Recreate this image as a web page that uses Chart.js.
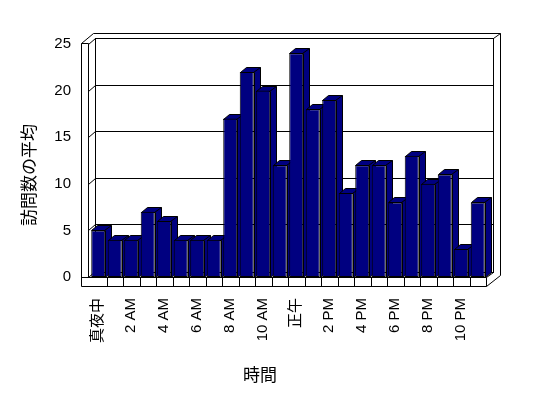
<!DOCTYPE html>
<html>
<head>
<meta charset="utf-8">
<script src="https://cdn.jsdelivr.net/npm/chart.js@4/dist/chart.umd.min.js"></script>
<style>
    html, body { margin: 0; padding: 0; background: #fff; }
    #wrap { width: 548px; height: 398px; }
</style>
</head>
<body>
<div id="wrap"><canvas id="visitChart" width="548" height="398"></canvas></div>
<script>
// Data
const hours = ['真夜中', '1 AM', '2 AM', '3 AM', '4 AM', '5 AM', '6 AM', '7 AM', '8 AM', '9 AM', '10 AM', '11 AM',
    '正午', '1 PM', '2 PM', '3 PM', '4 PM', '5 PM', '6 PM', '7 PM', '8 PM', '9 PM', '10 PM', '11 PM'];
const avgVisits = [5, 4, 4, 7, 6, 4, 4, 4, 17, 22, 20, 12, 24, 18, 19, 9, 12, 12, 8, 13, 10, 11, 3, 8];
const yTicks = [0, 5, 10, 15, 20, 25];
const xTitle = '時間';
const yTitle = '訪問数の平均';

const NAVY = '#000080';
const FONT = '"Liberation Sans", "Noto Sans CJK JP", sans-serif';

// Fake 3D box: walls, floor slab and bar depth faces
const box3d = {
    id: 'box3d',
    beforeDatasetsDraw(chart) {
        const ctx = chart.ctx;
        const xs = chart.scales.x, ys = chart.scales.y;
        const L = Math.round(xs.left) - 2;          // front edge of left wall
        const Lo = L - 7;                           // outer face of left wall
        const R = Math.round(xs.right);
        const B = Math.round(ys.getPixelForValue(0));
        const T = Math.round(ys.getPixelForValue(yTicks[yTicks.length - 1]));
        const DX = 7, DY = -6;
        const bw = { l: L + DX, r: R + 7, t: T + DY, b: B - 5 };   // back wall face
        const p = v => v + 0.5;

        ctx.save();
        ctx.strokeStyle = '#000';
        ctx.lineWidth = 1;

        const line = (x1, y1, x2, y2) => {
            ctx.beginPath();
            ctx.moveTo(p(x1), p(y1));
            ctx.lineTo(p(x2), p(y2));
            ctx.stroke();
        };

        // outer back frame
        line(Lo, T - 1, Lo + 12, T - 11);
        line(Lo + 12, T - 11, bw.r + 7, T - 11);
        line(bw.r + 7, T - 11, bw.r + 7, B - 2);
        line(bw.r, bw.t, bw.r + 7, T - 11);
        line(R, B + 9, bw.r + 7, B - 2);

        // back wall face
        ctx.strokeRect(p(bw.l), p(bw.t), bw.r - bw.l, bw.b - bw.t);

        // gridlines on the back wall + ticks on the left wall
        yTicks.forEach(v => {
            const yy = Math.round(ys.getPixelForValue(v));
            if (v > 0 && v < yTicks[yTicks.length - 1]) {
                line(bw.l, yy + DY, bw.r, yy + DY);
            }
            line(L, yy, bw.l, yy + DY);
        });

        // left wall
        line(Lo, T - 1, Lo, B + 9);
        line(L, T - 1, L, B);
        line(Lo, T - 1, L, T - 1);

        // floor slab
        line(Lo, B, R, B);
        line(Lo, B + 9, R, B + 9);
        line(R, B, R, B + 9);
        line(R, B, bw.r, bw.b);
        const step = (xs.right - xs.left) / hours.length;
        for (let i = 1; i < hours.length; i++) {
            const xx = Math.round(xs.left + i * step);
            line(xx, B, xx, B + 9);
        }

        // bar depth: top and side faces, left to right
        const bx = 6, by = -5;
        const meta = chart.getDatasetMeta(0);
        ctx.fillStyle = NAVY;
        meta.data.forEach(bar => {
            const { x, y, base, width } = bar.getProps(['x', 'y', 'base', 'width'], true);
            const l = Math.round(x - width / 2), r = Math.round(x + width / 2);
            const t = Math.round(y), b = Math.round(base);
            ctx.beginPath();
            ctx.moveTo(p(l), p(t));
            ctx.lineTo(p(l + bx), p(t + by));
            ctx.lineTo(p(r + bx), p(t + by));
            ctx.lineTo(p(r + bx), p(b + by));
            ctx.lineTo(p(r), p(b));
            ctx.lineTo(p(r), p(t));
            ctx.closePath();
            ctx.fill();
            ctx.stroke();
            line(r - 1, t, r + bx, t + by);
        });
        ctx.restore();
    },
    afterDraw(chart) {
        const ctx = chart.ctx;
        ctx.save();
        ctx.fillStyle = '#000';
        ctx.font = '17px "Noto Sans CJK JP", sans-serif';
        ctx.textAlign = 'center';
        ctx.textBaseline = 'middle';
        ctx.fillText(xTitle, 260, 375);
        ctx.translate(29, 175);
        ctx.rotate(-Math.PI / 2);
        ctx.fillText(yTitle, 0, 0);
        ctx.restore();
    }
};

const ctx = document.getElementById('visitChart').getContext('2d');
const chart = new Chart(ctx, {
    type: 'bar',
    data: {
        labels: hours,
        datasets: [{
            label: yTitle,
            data: avgVisits,
            backgroundColor: NAVY,
            borderColor: '#000',
            borderWidth: 1,
            borderSkipped: false,
            categoryPercentage: 1,
            barPercentage: 0.85
        }]
    },
    options: {
        responsive: false,
        animation: false,
        layout: { padding: { top: 44, right: 62, left: 0, bottom: 0 } },
        plugins: {
            legend: { display: false },
            tooltip: { enabled: false }
        },
        scales: {
            x: {
                grid: { display: false, drawTicks: false },
                border: { display: false },
                afterFit: s => { s.height = 121; },
                ticks: {
                    autoSkip: false,
                    minRotation: 90,
                    maxRotation: 90,
                    padding: 21,
                    color: '#000',
                    font: { family: FONT, size: 15 },
                    callback: (v, i) => (i % 2 === 0 ? hours[i] : '')
                }
            },
            y: {
                min: 0,
                max: 25,
                grid: { display: false, drawTicks: false },
                border: { display: false },
                afterFit: s => { s.width = 90; },
                afterBuildTicks: s => { s.ticks = yTicks.map(v => ({ value: v })); },
                ticks: {
                    padding: 19,
                    color: '#000',
                    font: { family: FONT, size: 15 }
                }
            }
        }
    },
    plugins: [box3d]
});
</script>
</body>
</html>
